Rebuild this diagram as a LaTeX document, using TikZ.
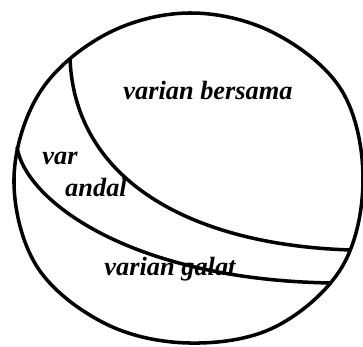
\documentclass[tikz,border=0pt]{standalone}
\usepackage{fontspec}
\setmainfont{Liberation Serif}
\usepackage{tikz}

\begin{document}
\begin{tikzpicture}[
      x=0.03cm, y=-0.03cm,
      rim/.style={draw, line width=3pt},
      part/.style={draw, line width=3pt},
      lbl/.style={anchor=base, inner sep=0pt,
                  font=\fontsize{22.5}{24}\selectfont\bfseries\itshape},
    ]
      \useasboundingbox (0,0) rectangle (363,347);
      % whole variance (hand drawn, a bit fuller to the lower right)
      \begin{scope}[shift={(189,178)}]
        \draw[rim] plot[smooth cycle, tension=0.6] coordinates {
          (0:174) (30:177) (60:172) (90:165) (120:168) (150:176)
          (180:175) (210:172) (240:166) (270:165) (300:168) (330:176)};
      \end{scope}
      \coordinate (topjoin) at (70,59);
      \coordinate (leftjoin) at (17,147);
      \coordinate (rightup) at (351,250);
      \coordinate (rightlow) at (332,283);
      % borders between the parts
      \draw[part] (topjoin) .. controls (75,180) and (190,245) .. (rightup);
      \draw[part] (leftjoin) .. controls (25,200) and (130,280) .. (rightlow);
      \node[lbl] (common) at (208,100) {varian bersama};
      \node[lbl] (relvar) at (60,165) {var};
      \node[lbl] (relandal) at (96,197) {andal};
      \node[lbl] (error) at (170,276) {varian galat};
    \end{tikzpicture}
\end{document}
